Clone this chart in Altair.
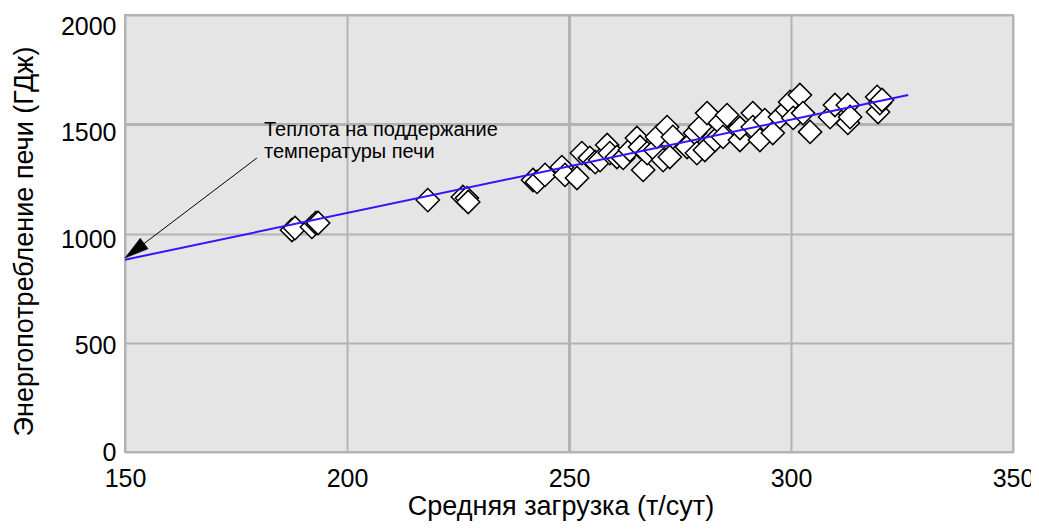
import altair as alt
import pandas as pd

# --- data ---
load = [187.6, 188.3, 192.1, 193.0, 193.5, 218.2, 226.1, 227.0, 227.3,
        241.9, 242.8, 244.6, 248.4, 249.1, 251.8, 252.9, 254.7, 255.9, 257.0,
        258.6, 259.2, 260.8, 262.2, 263.7, 265.3, 266.0, 266.7, 267.6, 269.4,
        269.8, 271.2, 272.1, 272.7, 273.4, 276.6, 278.4, 278.8, 279.5, 280.6,
        281.1, 282.9, 284.0, 284.7, 285.6, 288.5, 288.5, 291.4, 291.4, 293.0,
        294.1, 295.9, 297.5, 299.1, 299.8, 300.5, 302.0, 302.7, 304.3, 308.8,
        309.9, 312.8, 312.8, 313.3, 319.4, 319.6, 320.0, 320.5]
energy = [1016, 1025, 1030, 1048, 1048, 1153, 1167, 1162, 1144,
          1245, 1236, 1268, 1304, 1268, 1254, 1368, 1346, 1327, 1336,
          1405, 1368, 1350, 1346, 1382, 1437, 1396, 1291, 1368, 1382,
          1442, 1336, 1487, 1350, 1442, 1396, 1460, 1368, 1487, 1382,
          1551, 1428, 1506, 1442, 1542, 1428, 1483, 1551, 1487, 1428,
          1519, 1460, 1533, 1565, 1602, 1529, 1634, 1551, 1465, 1533,
          1588, 1588, 1506, 1533, 1625, 1556, 1597, 1611]

fit_x = [150, 326.4]
fit_y = [880, 1634]

arrow_start = [179.7, 1345.5]
arrow_head = [152.16, 921]
note_pos = [181.3, 1446]
note_text = "Теплота на поддержание\nтемпературы печи"

x_title = "Средняя загрузка (т/сут)"
y_title = "Энергопотребление печи (ГДж)"
x_ticks = [150, 200, 250, 300, 350]
y_ticks = [0, 500, 1000, 1500, 2000]

FONT = "Liberation Sans"

pts = pd.DataFrame({"x": load, "y": energy})
fit = pd.DataFrame({"x": fit_x, "y": fit_y})
arr = pd.DataFrame({"x": [arrow_start[0]], "y": [arrow_start[1]],
                    "x2": [arrow_head[0]], "y2": [arrow_head[1]]})
head = pd.DataFrame({"x": [arrow_head[0]], "y": [arrow_head[1]]})
note = pd.DataFrame({"x": [note_pos[0]], "y": [note_pos[1]], "t": [note_text]})

xs = alt.Scale(domain=[150, 350], nice=False, zero=False)
ys = alt.Scale(domain=[0, 2000], nice=False, zero=False)

xaxis = alt.Axis(values=x_ticks, format="d", title=x_title, grid=True,
                 gridColor="#b3b3b3",
                 gridWidth={"condition": {"test": "datum.value === 250", "value": 3}, "value": 2},
                 domain=False, ticks=False,
                 tickSize=0, labelFontSize=25, labelFont=FONT,
                 labelColor="black", labelPadding=14, labelFlush=False,
                 labelOverlap=False, titleFontSize=27, titleFont=FONT,
                 titleFontWeight="normal", titleColor="black",
                 titleX=435.5, titleY=62, titleAlign="center",
                 titleBaseline="alphabetic")
yaxis = alt.Axis(values=y_ticks, format="d", title=y_title, grid=True,
                 gridColor="#b3b3b3",
                 gridWidth={"condition": {"test": "datum.value === 1500", "value": 3}, "value": 2},
                 domain=False, ticks=False,
                 tickSize=0, labelFontSize=25, labelFont=FONT,
                 labelColor="black", labelPadding=9,
                 labelOffset=alt.ExprRef(expr="datum.value / 2000 * 11"),
                 labelOverlap=False, titleFontSize=27, titleFont=FONT,
                 titleFontWeight="normal", titleColor="black", titleX=-101,
                 titleY=226, titleAlign="center", titleBaseline="middle",
                 titleAngle=-90)

points = alt.Chart(pts).mark_point(
    shape="diamond", filled=True, fill="white", stroke="black",
    strokeWidth=1.5, size=540, opacity=1
).encode(
    x=alt.X("x:Q", scale=xs, axis=xaxis),
    y=alt.Y("y:Q", scale=ys, axis=yaxis),
)

line = alt.Chart(fit).mark_line(color="#3a10ff", strokeWidth=2).encode(
    x=alt.X("x:Q", scale=xs), y=alt.Y("y:Q", scale=ys)
)

rule = alt.Chart(arr).mark_rule(color="black", strokeWidth=1).encode(
    x=alt.X("x:Q", scale=xs), y=alt.Y("y:Q", scale=ys),
    x2="x2:Q", y2="y2:Q"
)

arrowhead = alt.Chart(head).mark_point(
    shape="M0,-1L-0.55,1L0.55,1Z", filled=True, fill="black", stroke="black",
    strokeWidth=0.5, size=576, angle=233, opacity=1
).encode(x=alt.X("x:Q", scale=xs), y=alt.Y("y:Q", scale=ys))

text = alt.Chart(note).mark_text(
    align="left", baseline="alphabetic", fontSize=20, font=FONT,
    color="black", lineBreak="\n", lineHeight=22
).encode(x=alt.X("x:Q", scale=xs), y=alt.Y("y:Q", scale=ys), text="t:N")

chart = alt.layer(points, line, rule, arrowhead, text).properties(
    width=888, height=437,
    autosize=alt.AutoSizeParams(type="none"),
    padding={"left": 117, "top": 7, "right": 18, "bottom": 70},
    view=alt.ViewBackground(fill="#e5e5e5", stroke="#b3b3b3", strokeWidth=2),
).configure_view(
    fill="#e5e5e5", stroke="#b3b3b3", strokeWidth=2
).configure(background="white")

chart.save("out.html", embed_options={"renderer": "svg", "actions": False})
